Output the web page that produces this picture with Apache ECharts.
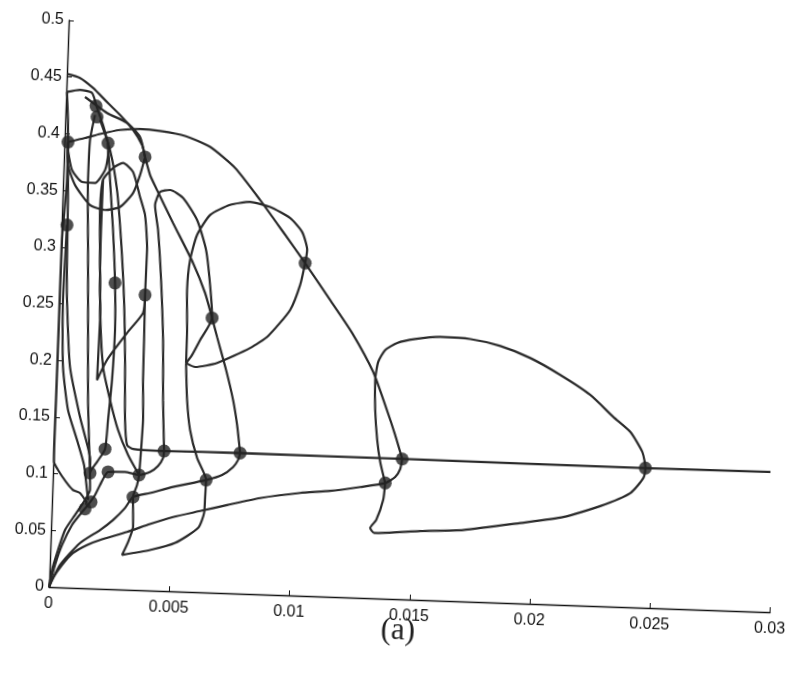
<!DOCTYPE html>
<html><head><meta charset="utf-8">
<script src="https://cdn.jsdelivr.net/npm/echarts@6/dist/echarts.min.js"></script>
<style>
html,body{margin:0;padding:0;background:#fff;overflow:hidden;width:791px;height:677px;}
#chart{position:absolute;left:0;top:0;width:791px;height:677px;transform:rotate(2deg);transform-origin:49px 587px;}
</style></head><body><div id="chart"></div>
<script>
const xTicks = ['0','0.005','0.01','0.015','0.02','0.025','0.03'];
const yTicks = ['0','0.05','0.1','0.15','0.2','0.25','0.3','0.35','0.4','0.45','0.5'];

const bigArc = [[0.000144,0.3928],[0.000845,0.3968],[0.001463,0.4008],[0.002289,0.4050],[0.003119,0.4065],[0.003954,0.4053],[0.005000,0.4017],[0.006056,0.3928],[0.007126,0.3750],[0.008212,0.3476],[0.009215,0.3201],[0.010174,0.2934],[0.011267,0.2616],[0.012230,0.2332],[0.013160,0.1995],[0.013753,0.1681],[0.014166,0.1446],[0.014492,0.1237]];
const trivialBranch = [[0.001443,0.4132],[0.001902,0.3870],[0.002251,0.3520],[0.002490,0.3080],[0.002702,0.2553],[0.002831,0.2024],[0.002918,0.1495],[0.003037,0.1276],[0.003292,0.1242],[0.004584,0.1234],[0.007747,0.1240],[0.014492,0.1237],[0.024609,0.1232],[0.029813,0.1235]];
const lowBranch = [[0,0],[0.000153,0.0081],[0.000509,0.0198],[0.000948,0.0307],[0.001519,0.0382],[0.002052,0.0430],[0.003163,0.0509],[0.004108,0.0586],[0.005055,0.0655],[0.006168,0.0716],[0.007282,0.0777],[0.008644,0.0849],[0.010300,0.0906],[0.011545,0.0933],[0.012786,0.0977],[0.013820,0.1020],[0.014227,0.1076],[0.014423,0.1148],[0.014492,0.1237]];
const rightLoop = [[0.013820,0.1020],[0.013761,0.0870],[0.013499,0.0691],[0.013262,0.0619],[0.013435,0.0576],[0.015345,0.0608],[0.017131,0.0630],[0.019491,0.0709],[0.021271,0.0775],[0.022793,0.0883],[0.024022,0.1007],[0.024541,0.1143],[0.024609,0.1232],[0.024461,0.1372],[0.023933,0.1545],[0.023205,0.1672],[0.022216,0.1859],[0.020940,0.2026],[0.019668,0.2166],[0.018403,0.2263],[0.017145,0.2315],[0.015895,0.2324],[0.014858,0.2298],[0.014116,0.2258],[0.013627,0.2192],[0.013353,0.2084],[0.013255,0.1925],[0.013298,0.1660],[0.013425,0.1397],[0.013582,0.1204],[0.013820,0.1020]];
const topArc = [[0.000004,0.4527],[0.000551,0.4496],[0.001105,0.4412],[0.001622,0.4309],[0.002267,0.4182],[0.002830,0.4054],[0.003225,0.3924],[0.003368,0.3819],[0.003602,0.3662],[0.003914,0.3532],[0.004628,0.3246],[0.005517,0.2900],[0.006060,0.2639],[0.006387,0.2421],[0.006622,0.2255],[0.007045,0.1967],[0.007379,0.1705],[0.007582,0.1486],[0.007747,0.1240]];
const tongue = [[0.004584,0.1234],[0.004469,0.1683],[0.004382,0.2212],[0.004212,0.2740],[0.004014,0.3180],[0.003853,0.3399],[0.004042,0.3516],[0.004455,0.3536],[0.005007,0.3470],[0.005621,0.3280],[0.006039,0.3018],[0.006256,0.2711],[0.006387,0.2421],[0.005920,0.2223],[0.005609,0.2089],[0.005371,0.2016]];
const midLoop = [[0.005371,0.2016],[0.005365,0.2308],[0.005307,0.2660],[0.005388,0.2925],[0.005643,0.3148],[0.006155,0.3328],[0.006972,0.3423],[0.007799,0.3455],[0.008638,0.3417],[0.009485,0.3326],[0.010005,0.3207],[0.010239,0.3050],[0.010174,0.2934],[0.009998,0.2739],[0.009619,0.2516],[0.008742,0.2280],[0.008011,0.2168],[0.006660,0.2026],[0.005751,0.1984],[0.005371,0.2016]];
const innerPath = [[0.005371,0.2016],[0.005467,0.1691],[0.005635,0.1427],[0.005967,0.1183],[0.006373,0.0991],[0.006357,0.0832],[0.006338,0.0700],[0.006110,0.0566],[0.005175,0.0427],[0.004146,0.0357],[0.002989,0.0305],[0.003220,0.0421],[0.003406,0.0555],[0.003381,0.0704],[0.003362,0.0819],[0.003511,0.0926],[0.003580,0.1015],[0.003627,0.1236],[0.003666,0.1501],[0.003608,0.1853],[0.003592,0.2206],[0.003568,0.2603],[0.003586,0.3000],[0.003452,0.3308],[0.003218,0.3465],[0.002891,0.3684],[0.002462,0.3760],[0.002053,0.3713],[0.001655,0.3604],[0.001573,0.3338],[0.001646,0.2898],[0.001733,0.2369],[0.001708,0.2016],[0.001696,0.1839],[0.002082,0.2019],[0.002875,0.2263],[0.003511,0.2444],[0.003568,0.2603]];
const hookA = [[0,0],[0.000425,0.0197],[0.001225,0.0397],[0.002038,0.0518],[0.002564,0.0610],[0.003045,0.0720],[0.003362,0.0819],[0.004063,0.0860],[0.005011,0.0920],[0.006373,0.0991],[0.007031,0.1040],[0.007477,0.1114],[0.007675,0.1178],[0.007747,0.1240]];
const hookB = [[0,0],[0.000217,0.0196],[0.000479,0.0374],[0.000867,0.0554],[0.001263,0.0671],[0.001503,0.0735],[0.001779,0.0825],[0.001973,0.0915],[0.002287,0.1032],[0.002993,0.1037],[0.003580,0.1015],[0.004033,0.1045],[0.004357,0.1100],[0.004553,0.1172],[0.004584,0.1234]];
const hookC = [[0,0],[0.000100,0.0151],[0.000321,0.0329],[0.000583,0.0507],[0.000977,0.0643],[0.001370,0.0778],[0.001564,0.0868],[0.001539,0.1017],[0.001815,0.1117],[0.002128,0.1233],[0.002211,0.1490],[0.002319,0.1844],[0.002371,0.2285],[0.002303,0.2700],[0.002143,0.3166],[0.001946,0.3606],[0.001809,0.3931]];
const axisStrand = [[0.000144,0.3928],[0.000158,0.3593],[0.000037,0.3062],[0.000028,0.2356],[0.000020,0.1650],[0.000010,0.1297],[0.000027,0.1103],[0.000205,0.1034],[0.000555,0.0931],[0.000857,0.0862],[0.001153,0.0838],[0.001458,0.0752]];
const strandM = [[0.000144,0.3928],[0.000228,0.3417],[0.000274,0.2888],[0.000332,0.2535],[0.000554,0.1945],[0.001042,0.1508],[0.001516,0.1158],[0.001539,0.1017]];
const strandM2 = [[0.000223,0.3196],[0.000165,0.2534],[0.000263,0.1943],[0.000533,0.1566],[0.000951,0.1304],[0.001278,0.1086],[0.001495,0.0779]];
const strandN = [[0.001228,0.4174],[0.001056,0.3952],[0.001031,0.3599],[0.001133,0.2982],[0.001249,0.2277],[0.001350,0.1660],[0.001450,0.1308],[0.001539,0.1017]];
const strandO = [[0.001655,0.3604],[0.001644,0.3162],[0.001704,0.2545],[0.001926,0.1956],[0.002265,0.1667],[0.002641,0.1405],[0.003093,0.1188],[0.003580,0.1015]];
const cupOuter = [[0.000144,0.3928],[0.000178,0.3725],[0.000498,0.3551],[0.001151,0.3379],[0.001781,0.3340],[0.002401,0.3371],[0.002921,0.3498],[0.003186,0.3659],[0.003368,0.3819]];
const cupInner = [[0.000156,0.3857],[0.000351,0.3682],[0.000785,0.3580],[0.001326,0.3575],[0.001724,0.3692],[0.001826,0.3826],[0.001809,0.3931]];
const shelf = [[0.000030,0.4368],[0.000568,0.4390],[0.001071,0.4367],[0.001301,0.4237],[0.001575,0.4089],[0.001809,0.3931]];
const arc42 = [[0.000786,0.4330],[0.001724,0.4196],[0.002570,0.4114],[0.003131,0.3994],[0.003368,0.3819]];
const axisTop = [[0.000030,0.4368],[0.000112,0.4122],[0.000144,0.3928]];

const dots = [[0.000144,0.3928],[0.000223,0.3196],[0.001256,0.4254],[0.001314,0.4157],[0.001809,0.3931],[0.003368,0.3819],[0.002303,0.2700],[0.003568,0.2603],[0.006387,0.2421],[0.010174,0.2934],[0.002128,0.1233],[0.004584,0.1234],[0.007747,0.1240],[0.014492,0.1237],[0.024609,0.1232],[0.001539,0.1017],[0.002287,0.1032],[0.003580,0.1015],[0.003362,0.0819],[0.006373,0.0991],[0.013820,0.1020],[0.001384,0.0699],[0.001623,0.0762]];

const curves = [bigArc, trivialBranch, lowBranch, rightLoop, topArc, tongue, midLoop, innerPath, hookA, hookB, hookC, axisStrand, strandM, strandM2, strandN, strandO, cupOuter, cupInner, shelf, arc42, axisTop];

const chart = echarts.init(document.getElementById('chart'), null, {renderer:'canvas'});
const series = curves.map((d) => ({
  type:'line', data:d, showSymbol:false, symbol:'none', smooth:0.2,
  lineStyle:{color:'#2a2a2a', width:2.2}, silent:true, z:2
}));
series.push({type:'scatter', data:dots, symbolSize:13, itemStyle:{color:'#222222'}, silent:true, z:5});

chart.setOption({
  animation:false,
  backgroundColor:'#ffffff',
  grid:{left:49, top:20, width:721.5, height:567, containLabel:false, outerBoundsMode:'none'},
  title:{text:'(a)', left:377, top:598, textStyle:{fontFamily:'Liberation Serif', fontSize:31, fontWeight:'normal', color:'#1e1e1e'}},
  xAxis:{type:'value', min:0, max:0.03, interval:0.005,
    axisLine:{show:true, onZero:false, lineStyle:{color:'#111', width:1.4}},
    axisTick:{show:true, inside:true, length:5, lineStyle:{color:'#111'}},
    splitLine:{show:false},
    axisLabel:{margin:9, fontFamily:'Liberation Sans', fontSize:16, color:'#111',
      formatter:(v)=>xTicks[Math.round(v/0.005)]}},
  yAxis:{type:'value', min:0, max:0.5, interval:0.05,
    axisLine:{show:true, onZero:false, lineStyle:{color:'#111', width:1.4}},
    axisTick:{show:true, inside:true, length:5, lineStyle:{color:'#111'}},
    splitLine:{show:false},
    axisLabel:{margin:5, fontFamily:'Liberation Sans', fontSize:16, color:'#111',
      formatter:(v)=>yTicks[Math.round(v/0.05)]}},
  series:series
});
</script></body></html>
